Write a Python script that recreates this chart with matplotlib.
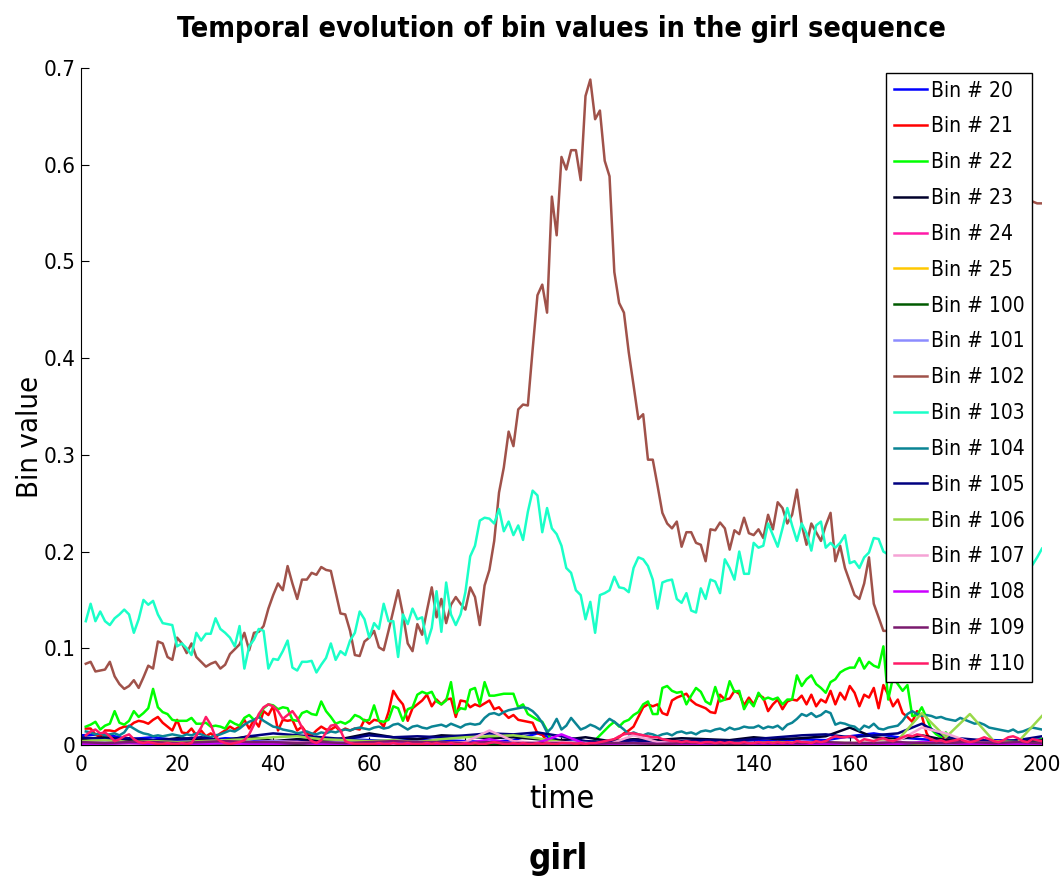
import matplotlib
matplotlib.use("Agg")
import matplotlib.pyplot as plt

plt.rcParams['font.family'] = ['DejaVu Sans']
plt.rcParams['font.stretch'] = 'condensed'

# time axis: main bins sampled every frame, minor bins read every 5 frames
t_full = list(range(1, 201))
t_coarse = list(range(0, 201, 5))

bin21 = [0.017, 0.017, 0.011, 0.008, 0.015, 0.015, 0.014, 0.017, 0.019, 0.019,
         0.023, 0.025, 0.024, 0.022, 0.026, 0.029, 0.023, 0.019, 0.015, 0.026,
         0.013, 0.012, 0.017, 0.010, 0.015, 0.009, 0.012, 0.008, 0.012, 0.015,
         0.019, 0.016, 0.019, 0.026, 0.017, 0.026, 0.019, 0.035, 0.031, 0.040,
         0.015, 0.026, 0.025, 0.026, 0.015, 0.019, 0.012, 0.010, 0.015, 0.019,
         0.016, 0.016, 0.019, 0.014, 0.017, 0.015, 0.017, 0.016, 0.026, 0.022,
         0.026, 0.025, 0.019, 0.034, 0.056, 0.048, 0.042, 0.025, 0.038, 0.042,
         0.046, 0.052, 0.040, 0.047, 0.042, 0.047, 0.048, 0.029, 0.046, 0.045,
         0.039, 0.042, 0.040, 0.043, 0.046, 0.037, 0.039, 0.033, 0.028, 0.031,
         0.026, 0.025, 0.024, 0.023, 0.012, 0.011, 0.003, 0.001, 0.000, 0.000,
         0.000, 0.000, 0.000, 0.001, 0.000, 0.002, 0.001, 0.003, 0.002, 0.004,
         0.006, 0.008, 0.012, 0.015, 0.019, 0.029, 0.039, 0.042, 0.040, 0.042,
         0.033, 0.031, 0.046, 0.049, 0.051, 0.053, 0.046, 0.042, 0.040, 0.038,
         0.034, 0.033, 0.052, 0.047, 0.048, 0.056, 0.053, 0.041, 0.049, 0.042,
         0.052, 0.049, 0.035, 0.042, 0.047, 0.037, 0.045, 0.047, 0.046, 0.051,
         0.042, 0.052, 0.040, 0.047, 0.044, 0.056, 0.042, 0.054, 0.047, 0.061,
         0.054, 0.040, 0.052, 0.049, 0.059, 0.038, 0.062, 0.052, 0.040, 0.047,
         0.033, 0.029, 0.024, 0.035, 0.030, 0.012, 0.004, 0.002, 0.006, 0.009,
         0.003, 0.001, 0.002, 0.001, 0.002, 0.001, 0.001, 0.002, 0.001, 0.001,
         0.002, 0.001, 0.001, 0.002, 0.001, 0.001, 0.002, 0.001, 0.002, 0.001]

bin22 = [0.019, 0.021, 0.024, 0.016, 0.020, 0.022, 0.035, 0.023, 0.021, 0.025,
         0.035, 0.029, 0.033, 0.038, 0.058, 0.039, 0.034, 0.032, 0.026, 0.025,
         0.025, 0.025, 0.028, 0.022, 0.022, 0.023, 0.019, 0.020, 0.019, 0.017,
         0.025, 0.022, 0.020, 0.028, 0.031, 0.026, 0.029, 0.038, 0.042, 0.041,
         0.037, 0.039, 0.038, 0.026, 0.025, 0.033, 0.035, 0.032, 0.031, 0.045,
         0.035, 0.029, 0.022, 0.024, 0.022, 0.025, 0.031, 0.029, 0.025, 0.026,
         0.041, 0.025, 0.024, 0.026, 0.040, 0.038, 0.025, 0.037, 0.039, 0.052,
         0.055, 0.053, 0.055, 0.045, 0.042, 0.046, 0.065, 0.033, 0.038, 0.037,
         0.057, 0.059, 0.042, 0.065, 0.051, 0.051, 0.052, 0.053, 0.053, 0.053,
         0.039, 0.042, 0.032, 0.029, 0.026, 0.024, 0.015, 0.002, 0.001, 0.001,
         0.001, 0.001, 0.001, 0.001, 0.002, 0.002, 0.005, 0.010, 0.015, 0.020,
         0.024, 0.019, 0.024, 0.026, 0.031, 0.034, 0.042, 0.045, 0.032, 0.032,
         0.059, 0.061, 0.056, 0.054, 0.055, 0.042, 0.051, 0.059, 0.055, 0.045,
         0.042, 0.060, 0.045, 0.047, 0.066, 0.055, 0.056, 0.037, 0.046, 0.040,
         0.054, 0.047, 0.049, 0.047, 0.049, 0.042, 0.047, 0.047, 0.072, 0.061,
         0.068, 0.072, 0.063, 0.059, 0.054, 0.065, 0.068, 0.075, 0.078, 0.080,
         0.080, 0.090, 0.079, 0.086, 0.082, 0.080, 0.102, 0.047, 0.070, 0.063,
         0.056, 0.062, 0.030, 0.031, 0.039, 0.028, 0.016, 0.011, 0.008, 0.013,
         0.006, 0.004, 0.003, 0.002, 0.003, 0.002, 0.001, 0.002, 0.001, 0.001,
         0.002, 0.001, 0.001, 0.002, 0.001, 0.002, 0.003, 0.004, 0.005, 0.006]

bin102 = [0.084, 0.086, 0.076, 0.077, 0.078, 0.086, 0.071, 0.063, 0.058, 0.061,
          0.067, 0.059, 0.070, 0.082, 0.079, 0.107, 0.105, 0.091, 0.088, 0.111,
          0.105, 0.095, 0.105, 0.091, 0.086, 0.081, 0.084, 0.086, 0.079, 0.083,
          0.094, 0.099, 0.104, 0.116, 0.098, 0.116, 0.117, 0.123, 0.141, 0.155,
          0.167, 0.160, 0.185, 0.167, 0.151, 0.171, 0.171, 0.178, 0.176, 0.184,
          0.181, 0.180, 0.158, 0.136, 0.135, 0.118, 0.093, 0.092, 0.107, 0.111,
          0.118, 0.101, 0.098, 0.118, 0.139, 0.160, 0.135, 0.105, 0.097, 0.125,
          0.114, 0.139, 0.163, 0.132, 0.151, 0.126, 0.145, 0.153, 0.146, 0.140,
          0.163, 0.153, 0.124, 0.165, 0.181, 0.211, 0.261, 0.287, 0.324, 0.309,
          0.347, 0.352, 0.351, 0.409, 0.465, 0.476, 0.447, 0.567, 0.527, 0.608,
          0.595, 0.615, 0.615, 0.584, 0.671, 0.688, 0.647, 0.656, 0.604, 0.588,
          0.489, 0.457, 0.447, 0.406, 0.372, 0.337, 0.342, 0.295, 0.295, 0.268,
          0.240, 0.229, 0.224, 0.231, 0.205, 0.220, 0.220, 0.209, 0.207, 0.190,
          0.223, 0.222, 0.230, 0.224, 0.202, 0.222, 0.218, 0.235, 0.219, 0.217,
          0.223, 0.214, 0.238, 0.223, 0.251, 0.245, 0.229, 0.238, 0.264, 0.228,
          0.207, 0.229, 0.220, 0.211, 0.227, 0.240, 0.190, 0.206, 0.183, 0.169,
          0.155, 0.151, 0.167, 0.194, 0.146, 0.132, 0.118, 0.118, 0.091, 0.077,
          0.085, 0.097, 0.112, 0.121, 0.146, 0.158, 0.171, 0.196, 0.205, 0.231,
          0.248, 0.262, 0.297, 0.310, 0.342, 0.360, 0.378, 0.410, 0.423, 0.447,
          0.462, 0.489, 0.494, 0.518, 0.527, 0.541, 0.550, 0.562, 0.560, 0.560]

bin103 = [0.128, 0.146, 0.128, 0.138, 0.128, 0.124, 0.131, 0.135, 0.140, 0.135,
          0.116, 0.130, 0.150, 0.145, 0.149, 0.135, 0.126, 0.125, 0.124, 0.102,
          0.105, 0.100, 0.093, 0.116, 0.108, 0.115, 0.115, 0.131, 0.120, 0.116,
          0.111, 0.102, 0.123, 0.079, 0.102, 0.109, 0.120, 0.118, 0.079, 0.089,
          0.088, 0.097, 0.108, 0.080, 0.077, 0.086, 0.086, 0.087, 0.075, 0.083,
          0.090, 0.105, 0.088, 0.097, 0.093, 0.108, 0.116, 0.138, 0.130, 0.111,
          0.126, 0.120, 0.146, 0.128, 0.128, 0.091, 0.135, 0.125, 0.141, 0.130,
          0.132, 0.105, 0.121, 0.159, 0.117, 0.168, 0.135, 0.124, 0.135, 0.158,
          0.195, 0.206, 0.232, 0.235, 0.234, 0.229, 0.244, 0.221, 0.231, 0.217,
          0.227, 0.212, 0.241, 0.263, 0.258, 0.220, 0.245, 0.224, 0.218, 0.206,
          0.183, 0.178, 0.160, 0.155, 0.130, 0.148, 0.116, 0.155, 0.157, 0.160,
          0.174, 0.163, 0.162, 0.158, 0.183, 0.194, 0.192, 0.185, 0.171, 0.141,
          0.168, 0.170, 0.171, 0.151, 0.147, 0.157, 0.139, 0.137, 0.162, 0.151,
          0.171, 0.169, 0.157, 0.192, 0.183, 0.171, 0.200, 0.177, 0.177, 0.209,
          0.204, 0.206, 0.229, 0.217, 0.205, 0.224, 0.245, 0.227, 0.211, 0.229,
          0.219, 0.201, 0.227, 0.231, 0.204, 0.209, 0.204, 0.209, 0.217, 0.188,
          0.190, 0.183, 0.194, 0.199, 0.214, 0.213, 0.200, 0.197, 0.241, 0.232,
          0.225, 0.238, 0.215, 0.221, 0.209, 0.226, 0.214, 0.200, 0.218, 0.207,
          0.195, 0.211, 0.203, 0.190, 0.205, 0.198, 0.187, 0.200, 0.192, 0.183,
          0.196, 0.188, 0.201, 0.190, 0.184, 0.197, 0.190, 0.186, 0.194, 0.203]

bin104 = [0.014, 0.013, 0.011, 0.012, 0.010, 0.011, 0.012, 0.010, 0.013, 0.020,
          0.017, 0.014, 0.012, 0.011, 0.009, 0.010, 0.009, 0.010, 0.011, 0.010,
          0.009, 0.011, 0.010, 0.012, 0.011, 0.009, 0.008, 0.010, 0.011, 0.013,
          0.015, 0.014, 0.017, 0.021, 0.024, 0.026, 0.029, 0.025, 0.022, 0.019,
          0.018, 0.016, 0.015, 0.014, 0.012, 0.013, 0.014, 0.012, 0.011, 0.013,
          0.012, 0.014, 0.013, 0.015, 0.016, 0.015, 0.017, 0.018, 0.017, 0.016,
          0.018, 0.019, 0.017, 0.018, 0.021, 0.022, 0.019, 0.016, 0.019, 0.020,
          0.018, 0.017, 0.019, 0.020, 0.021, 0.019, 0.022, 0.020, 0.018, 0.021,
          0.022, 0.021, 0.022, 0.028, 0.032, 0.033, 0.031, 0.034, 0.036, 0.037,
          0.038, 0.039, 0.038, 0.035, 0.030, 0.023, 0.013, 0.018, 0.027, 0.016,
          0.020, 0.028, 0.022, 0.016, 0.018, 0.021, 0.019, 0.016, 0.022, 0.027,
          0.024, 0.020, 0.016, 0.011, 0.013, 0.011, 0.010, 0.012, 0.011, 0.009,
          0.011, 0.012, 0.010, 0.013, 0.014, 0.012, 0.013, 0.011, 0.014, 0.015,
          0.014, 0.016, 0.017, 0.015, 0.018, 0.016, 0.017, 0.019, 0.018, 0.018,
          0.020, 0.017, 0.019, 0.018, 0.020, 0.016, 0.021, 0.023, 0.027, 0.032,
          0.030, 0.033, 0.029, 0.031, 0.035, 0.033, 0.021, 0.023, 0.022, 0.020,
          0.019, 0.015, 0.020, 0.018, 0.022, 0.017, 0.016, 0.018, 0.019, 0.020,
          0.025, 0.032, 0.035, 0.032, 0.030, 0.031, 0.030, 0.028, 0.029, 0.027,
          0.026, 0.025, 0.028, 0.026, 0.024, 0.022, 0.023, 0.021, 0.018, 0.017,
          0.016, 0.015, 0.014, 0.016, 0.013, 0.014, 0.016, 0.018, 0.017, 0.016]

bin110 = [0.010, 0.014, 0.016, 0.012, 0.013, 0.009, 0.004, 0.006, 0.009, 0.011,
          0.006, 0.003, 0.002, 0.003, 0.002, 0.001, 0.001, 0.002, 0.001, 0.001,
          0.002, 0.001, 0.002, 0.010, 0.018, 0.029, 0.021, 0.008, 0.004, 0.002,
          0.001, 0.002, 0.003, 0.005, 0.011, 0.021, 0.032, 0.039, 0.042, 0.040,
          0.035, 0.027, 0.031, 0.035, 0.028, 0.018, 0.009, 0.004, 0.002, 0.005,
          0.013, 0.020, 0.021, 0.015, 0.004, 0.002, 0.001, 0.001, 0.001, 0.001,
          0.001, 0.002, 0.001, 0.001, 0.002, 0.001, 0.001, 0.002, 0.001, 0.001,
          0.001, 0.002, 0.001, 0.002, 0.001, 0.001, 0.002, 0.001, 0.001, 0.002,
          0.001, 0.002, 0.001, 0.001, 0.002, 0.003, 0.002, 0.001, 0.001, 0.002,
          0.001, 0.002, 0.001, 0.001, 0.002, 0.001, 0.002, 0.001, 0.001, 0.002,
          0.002, 0.002, 0.001, 0.002, 0.001, 0.002, 0.002, 0.003, 0.004, 0.005,
          0.006, 0.009, 0.011, 0.012, 0.012, 0.011, 0.010, 0.009, 0.008, 0.008,
          0.006, 0.005, 0.004, 0.004, 0.003, 0.004, 0.003, 0.003, 0.002, 0.003,
          0.003, 0.002, 0.003, 0.002, 0.003, 0.002, 0.002, 0.003, 0.002, 0.002,
          0.003, 0.002, 0.003, 0.002, 0.003, 0.002, 0.003, 0.002, 0.004, 0.003,
          0.003, 0.002, 0.004, 0.003, 0.004, 0.007, 0.009, 0.008, 0.008, 0.009,
          0.008, 0.003, 0.006, 0.005, 0.004, 0.006, 0.007, 0.005, 0.004, 0.006,
          0.008, 0.010, 0.009, 0.011, 0.010, 0.008, 0.006, 0.004, 0.005, 0.003,
          0.004, 0.005, 0.006, 0.004, 0.003, 0.004, 0.006, 0.008, 0.006, 0.004,
          0.003, 0.005, 0.008, 0.009, 0.007, 0.004, 0.003, 0.006, 0.005, 0.004]

# minor bins (every 5 frames)
bin20 = [0.010, 0.011, 0.006, 0.008, 0.005, 0.004, 0.007, 0.006, 0.003, 0.005,
         0.004, 0.006, 0.005, 0.004, 0.006, 0.005, 0.004, 0.003, 0.005, 0.012,
         0.004, 0.003, 0.002, 0.004, 0.003, 0.004, 0.002, 0.003, 0.005, 0.004,
         0.006, 0.005, 0.009, 0.012, 0.008, 0.006, 0.004, 0.003, 0.005, 0.004,
         0.006]
bin23 = [0.006, 0.008, 0.005, 0.004, 0.007, 0.006, 0.005, 0.009, 0.004, 0.006,
         0.005, 0.007, 0.012, 0.008, 0.006, 0.010, 0.009, 0.007, 0.008, 0.006,
         0.005, 0.008, 0.004, 0.006, 0.005, 0.007, 0.006, 0.005, 0.008, 0.006,
         0.007, 0.009, 0.018, 0.008, 0.006, 0.010, 0.005, 0.004, 0.003, 0.004,
         0.005]
bin24 = [0.002, 0.003, 0.002, 0.001, 0.002, 0.003, 0.002, 0.002, 0.004, 0.003,
         0.002, 0.001, 0.002, 0.001, 0.002, 0.001, 0.002, 0.001, 0.001, 0.002,
         0.001, 0.001, 0.002, 0.001, 0.001, 0.002, 0.001, 0.001, 0.002, 0.001,
         0.001, 0.002, 0.001, 0.002, 0.001, 0.002, 0.003, 0.002, 0.001, 0.002,
         0.001]
bin25 = [0.001, 0.001, 0.001, 0.002, 0.001, 0.001, 0.001, 0.001, 0.002, 0.001,
         0.001, 0.001, 0.001, 0.001, 0.001, 0.001, 0.001, 0.001, 0.001, 0.001,
         0.000, 0.001, 0.000, 0.001, 0.000, 0.001, 0.000, 0.001, 0.000, 0.001,
         0.001, 0.000, 0.001, 0.001, 0.000, 0.001, 0.001, 0.000, 0.001, 0.001,
         0.001]
bin100 = [0.002, 0.001, 0.002, 0.001, 0.001, 0.002, 0.001, 0.002, 0.001, 0.001,
          0.002, 0.001, 0.001, 0.002, 0.001, 0.001, 0.002, 0.001, 0.001, 0.001,
          0.001, 0.000, 0.001, 0.001, 0.000, 0.001, 0.001, 0.000, 0.001, 0.001,
          0.001, 0.001, 0.002, 0.001, 0.001, 0.002, 0.001, 0.001, 0.001, 0.002,
          0.001]
bin101 = [0.003, 0.003, 0.002, 0.003, 0.002, 0.003, 0.002, 0.003, 0.004, 0.003,
          0.002, 0.003, 0.002, 0.002, 0.003, 0.002, 0.002, 0.003, 0.002, 0.002,
          0.001, 0.001, 0.002, 0.001, 0.001, 0.002, 0.001, 0.002, 0.001, 0.001,
          0.002, 0.001, 0.002, 0.001, 0.002, 0.002, 0.001, 0.002, 0.001, 0.001,
          0.002]
bin105 = [0.008, 0.006, 0.007, 0.005, 0.006, 0.008, 0.004, 0.009, 0.012, 0.010,
          0.008, 0.006, 0.010, 0.008, 0.009, 0.008, 0.010, 0.012, 0.011, 0.013,
          0.009, 0.004, 0.003, 0.005, 0.003, 0.004, 0.005, 0.004, 0.006, 0.008,
          0.010, 0.011, 0.008, 0.010, 0.012, 0.022, 0.008, 0.006, 0.004, 0.005,
          0.009]
bin106 = [0.004, 0.005, 0.003, 0.004, 0.003, 0.004, 0.005, 0.006, 0.008, 0.009,
          0.006, 0.005, 0.004, 0.005, 0.003, 0.006, 0.008, 0.009, 0.010, 0.007,
          0.003, 0.002, 0.001, 0.002, 0.001, 0.002, 0.001, 0.002, 0.002, 0.003,
          0.002, 0.003, 0.002, 0.004, 0.005, 0.033, 0.008, 0.032, 0.004, 0.003,
          0.030]
bin107 = [0.002, 0.002, 0.001, 0.002, 0.001, 0.002, 0.002, 0.001, 0.002, 0.003,
          0.002, 0.001, 0.002, 0.001, 0.002, 0.002, 0.003, 0.015, 0.004, 0.002,
          0.003, 0.002, 0.001, 0.010, 0.003, 0.002, 0.001, 0.002, 0.001, 0.002,
          0.001, 0.002, 0.002, 0.003, 0.004, 0.018, 0.012, 0.003, 0.002, 0.001,
          0.002]
bin108 = [0.001, 0.001, 0.002, 0.001, 0.001, 0.001, 0.002, 0.001, 0.001, 0.002,
          0.001, 0.001, 0.001, 0.002, 0.001, 0.001, 0.001, 0.006, 0.001, 0.002,
          0.011, 0.001, 0.001, 0.002, 0.001, 0.001, 0.001, 0.002, 0.001, 0.001,
          0.001, 0.001, 0.002, 0.001, 0.001, 0.003, 0.002, 0.001, 0.001, 0.001,
          0.001]
bin109 = [0.003, 0.002, 0.003, 0.003, 0.002, 0.003, 0.004, 0.003, 0.003, 0.002,
          0.003, 0.002, 0.003, 0.004, 0.003, 0.003, 0.002, 0.003, 0.002, 0.002,
          0.002, 0.001, 0.002, 0.002, 0.001, 0.002, 0.002, 0.001, 0.002, 0.002,
          0.002, 0.003, 0.002, 0.002, 0.003, 0.002, 0.002, 0.003, 0.002, 0.003,
          0.002]

labels = ['Bin # 20', 'Bin # 21', 'Bin # 22', 'Bin # 23', 'Bin # 24', 'Bin # 25',
          'Bin # 100', 'Bin # 101', 'Bin # 102', 'Bin # 103', 'Bin # 104',
          'Bin # 105', 'Bin # 106', 'Bin # 107', 'Bin # 108', 'Bin # 109',
          'Bin # 110']
colors = ['#0000ff', '#ff0000', '#00ff00', '#00002b', '#ff1aa8', '#ffc800',
          '#005a00', '#8c8cff', '#a0524a', '#1affc8', '#0a8494', '#000080',
          '#99d94a', '#f5a3d5', '#cc00ff', '#7a1a6e', '#ff1a66']

series = [(t_coarse, bin20), (t_full, bin21), (t_full, bin22), (t_coarse, bin23),
          (t_coarse, bin24), (t_coarse, bin25), (t_coarse, bin100),
          (t_coarse, bin101), (t_full, bin102), (t_full, bin103),
          (t_full, bin104), (t_coarse, bin105), (t_coarse, bin106),
          (t_coarse, bin107), (t_coarse, bin108), (t_coarse, bin109),
          (t_full, bin110)]

xticks = [0, 20, 40, 60, 80, 100, 120, 140, 160, 180, 200]
yticks = [0, 0.1, 0.2, 0.3, 0.4, 0.5, 0.6, 0.7]
ytick_labels = ['0', '0.1', '0.2', '0.3', '0.4', '0.5', '0.6', '0.7']

fig = plt.figure(figsize=(10.63, 8.85), dpi=100)
ax = fig.add_axes([0.0762, 0.1582, 0.904, 0.765])

for (tx, vals), lab, col in zip(series, labels, colors):
    ax.plot(tx, vals, color=col, lw=1.8, label=lab)

ax.set_xlim(0, 200)
ax.set_ylim(0, 0.7)
ax.set_xticks(xticks)
ax.set_xticklabels([str(v) for v in xticks])
ax.set_yticks(yticks)
ax.set_yticklabels(ytick_labels)
ax.tick_params(direction='in', length=6, width=0.8, labelsize=16)
ax.tick_params(axis='y', pad=4)
ax.tick_params(axis='x', pad=7)
ax.spines['top'].set_visible(False)
ax.spines['right'].set_visible(False)
for s in ('left', 'bottom'):
    ax.spines[s].set_linewidth(0.8)

ax.set_xlabel('time', fontsize=23, labelpad=7)
ax.set_ylabel('Bin value', fontsize=21)
ax.yaxis.set_label_coords(-0.038, 0.455)
ax.set_title('Temporal evolution of bin values in the girl sequence',
             fontsize=20.5, fontweight='bold', pad=22)
fig.text(0.525, 0.029, 'girl', ha='center', va='center',
         fontsize=25, fontweight='bold')

leg = ax.legend(loc='upper right', bbox_to_anchor=(0.99, 0.993),
                borderaxespad=0, fontsize=15, frameon=True, fancybox=False,
                framealpha=1, edgecolor='black', handlelength=1.55,
                handletextpad=0.2, labelspacing=0.76, borderpad=0.38)
leg.get_frame().set_linewidth(1.0)

fig.savefig('out.png', dpi=100)
